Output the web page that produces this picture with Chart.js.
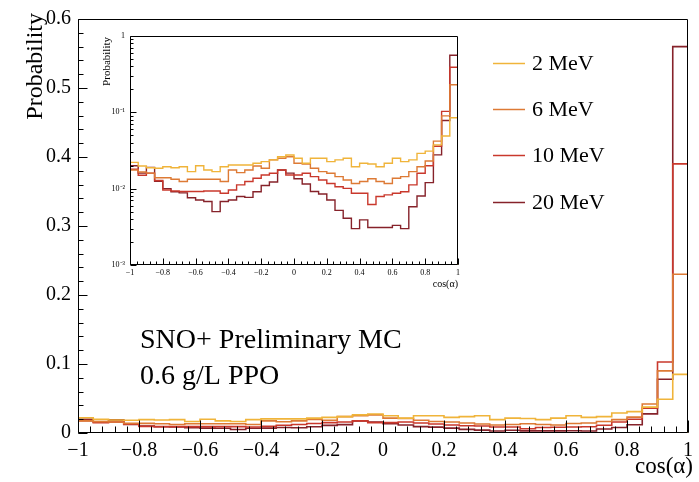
<!DOCTYPE html>
<html><head><meta charset="utf-8">
<script src="https://cdn.jsdelivr.net/npm/chart.js@4.4.1/dist/chart.umd.min.js"></script>
<style>
html,body{margin:0;padding:0;background:#fff;}
#wrap{position:relative;width:699px;height:482px;overflow:hidden;background:#fff;}
#main{position:absolute;left:0;top:0;}
#inset{position:absolute;left:88px;top:22px;background:#fff;}
</style></head><body>
<div id="wrap"><canvas id="main" width="699" height="482"></canvas><canvas id="inset" width="378" height="272"></canvas></div>
<script>
// ---- data ----
const binLowEdges = [-1,-0.95,-0.9,-0.85,-0.8,-0.75,-0.7,-0.65,-0.6,-0.55,-0.5,-0.45,-0.4,-0.35,-0.3,-0.25,-0.2,-0.15,-0.1,-0.05,
  0,0.05,0.1,0.15,0.2,0.25,0.3,0.35,0.4,0.45,0.5,0.55,0.6,0.65,0.7,0.75,0.8,0.85,0.9,0.95];
const binUpperEdge = 1;
const seriesLabels = ['2 MeV','6 MeV','10 MeV','20 MeV'];
const p2MeV = [0.0221,0.0198,0.0188,0.0185,0.0194,0.0188,0.0194,0.0167,0.0200,0.0176,
  0.0167,0.0194,0.0204,0.0204,0.0204,0.0215,0.0226,0.0238,0.0262,0.0276,
  0.0250,0.0215,0.0250,0.0250,0.0226,0.0238,0.0250,0.0194,0.0215,0.0210,
  0.0194,0.0215,0.0250,0.0226,0.0238,0.0290,0.0310,0.0375,0.049,0.085];
const p6MeV = [0.0176,0.0165,0.0160,0.0139,0.0139,0.0133,0.0124,0.0133,0.0133,0.0133,
  0.0133,0.0124,0.0176,0.0162,0.0176,0.0198,0.0185,0.0238,0.0250,0.0262,
  0.0215,0.0210,0.0185,0.0167,0.0159,0.0144,0.0130,0.0117,0.0124,0.0135,
  0.0124,0.0117,0.0137,0.0144,0.0167,0.0194,0.0230,0.0420,0.090,0.230];
const p10MeV = [0.0180,0.0150,0.0160,0.0128,0.0096,0.0093,0.0092,0.0092,0.0092,0.0093,
  0.0093,0.0087,0.0096,0.0112,0.0124,0.0137,0.0151,0.0159,0.0176,0.0151,
  0.0151,0.0159,0.0144,0.0130,0.0117,0.0106,0.0101,0.0087,0.0087,0.0062,
  0.0079,0.0083,0.0087,0.0091,0.0112,0.0159,0.0200,0.0360,0.103,0.390];
const p20MeV = [0.0200,0.0160,0.0190,0.0125,0.0100,0.0091,0.0088,0.0076,0.0071,0.0068,
  0.0050,0.0068,0.0071,0.0079,0.0077,0.0091,0.0110,0.0122,0.0176,0.0160,
  0.0135,0.0115,0.0092,0.0085,0.0071,0.0052,0.0041,0.0030,0.0039,0.0031,
  0.0031,0.0031,0.0033,0.0030,0.0058,0.0080,0.0120,0.0277,0.078,0.560];
const mainYTicks = [0,0.1,0.2,0.3,0.4,0.5,0.6];
const xTicks = [-1,-0.8,-0.6,-0.4,-0.2,0,0.2,0.4,0.6,0.8,1];
const insetYTicks = [0.001,0.01,0.1,1];
const insetYTickLabels = ['10\u207B\u00B3','10\u207B\u00B2','10\u207B\u00B9','1'];
const seriesColors = ['#f0b43a','#dd7a35','#c9382c','#86222a'];

// ---- helpers ----
const FONT = "'Liberation Serif', 'Times New Roman', serif";
function histPoints(vals, floor){
  const pts = vals.map((v,i)=>({x: binLowEdges[i], y: v}));
  pts.push({x: binUpperEdge, y: floor});
  return pts;
}
function fmtX(v){ const r = Math.round(v*10)/10; return r===0 ? '0' : String(r).replace('-','\u2212'); }
function rangeStep(a,b,s){ const out=[]; const n=Math.round((b-a)/s); for(let i=0;i<=n;i++) out.push(a+i*s); return out; }
function logMinors(min,max){ const out=[]; for(let e=Math.log10(min); e<Math.log10(max); e++){ for(let k=2;k<=9;k++) out.push(k*Math.pow(10,e)); } return out; }

function datasets(floor, width){
  const all = [p2MeV,p6MeV,p10MeV,p20MeV];
  return all.map((vals,i)=>({
    label: seriesLabels[i], data: histPoints(vals, floor), stepped: true,
    borderColor: seriesColors[i], borderWidth: width, pointRadius: 0, fill: false, tension: 0
  }));
}

const innerTicks = {
  id: 'innerTicks',
  afterDatasetsDraw(chart, args, o){
    const ctx = chart.ctx, a = chart.chartArea, xs = chart.scales.x, ys = chart.scales.y;
    ctx.save();
    ctx.strokeStyle = '#000'; ctx.lineWidth = 1;
    const L = Math.round(a.left)+0.5, R = Math.round(a.right)-0.5, T = Math.round(a.top)+0.5, B = Math.round(a.bottom)-0.5;
    ctx.beginPath();
    ctx.rect(L, T, R-L, B-T);
    const tick = (vals, len, isX) => {
      vals.forEach(v=>{
        if(isX){ const p = Math.round(xs.getPixelForValue(v))+0.5; if(p<L-1||p>R+1) return; ctx.moveTo(p,B); ctx.lineTo(p,B-len); }
        else { const p = Math.round(ys.getPixelForValue(v))+0.5; if(p<T-1||p>B+1) return; ctx.moveTo(L,p); ctx.lineTo(L+len,p); }
      });
    };
    tick(o.xMajor, o.xMajorLen, true); tick(o.xMinor, o.xMinorLen, true);
    tick(o.yMajor, o.yMajorLen, false); tick(o.yMinor, o.yMinorLen, false);
    ctx.stroke();
    ctx.restore();
  }
};

const textPlugin = {
  id: 'textPlugin',
  afterDraw(chart, args, o){
    const ctx = chart.ctx;
    ctx.save();
    ctx.fillStyle = '#000';
    (o.items||[]).forEach(t=>{
      ctx.save();
      ctx.font = t.size + 'px ' + FONT;
      ctx.textAlign = t.align || 'left';
      ctx.textBaseline = t.baseline || 'alphabetic';
      ctx.translate(t.x, t.y);
      if(t.rot) ctx.rotate(t.rot);
      ctx.fillText(t.text, 0, 0);
      ctx.restore();
    });
    if(o.legend){
      const lg = o.legend;
      chart.data.datasets.forEach((d,i)=>{
        const y = lg.rows[i];
        ctx.strokeStyle = d.borderColor; ctx.lineWidth = 1.5;
        ctx.beginPath(); ctx.moveTo(lg.x0, y+0.5); ctx.lineTo(lg.x1, y+0.5); ctx.stroke();
        ctx.font = lg.size + 'px ' + FONT; ctx.textBaseline = 'middle'; ctx.textAlign = 'left';
        ctx.fillStyle = '#000';
        ctx.fillText(d.label, lg.tx, y+1);
      });
    }
    ctx.restore();
  }
};

// ---- main chart ----
new Chart(document.getElementById('main'), {
  type: 'line',
  data: { datasets: datasets(0, 1.6) },
  options: {
    responsive: false, animation: false, devicePixelRatio: 1,
    layout: { padding: { top: 13, right: 6, left: 0, bottom: 0 } },
    plugins: {
      legend: { display: false }, tooltip: { enabled: false },
      innerTicks: { xMajor: xTicks, xMinor: rangeStep(-1,1,0.04), yMajor: mainYTicks, yMinor: rangeStep(0,0.6,0.02),
        xMajorLen: 12, xMinorLen: 6, yMajorLen: 9, yMinorLen: 5 },
      textPlugin: {
        items: [
          { text: 'Probability', x: 42, y: 13, size: 24, rot: -Math.PI/2, align: 'right' },
          { text: 'cos(\u03B1)', x: 693, y: 473, size: 23, align: 'right' },
          { text: 'SNO+ Preliminary MC', x: 140, y: 348, size: 28 },
          { text: '0.6 g/L PPO', x: 140, y: 384, size: 28 }
        ],
        legend: { x0: 493, x1: 525, tx: 532, rows: [63,109,155,202], size: 22 }
      }
    },
    scales: {
      x: { type: 'linear', min: -1, max: 1,
        afterBuildTicks: s => { s.ticks = xTicks.map(v=>({value:v})); },
        afterFit: s => { s.height = 49; },
        ticks: { font: { family: FONT, size: 20 }, color: '#000', padding: 6, maxRotation: 0, autoSkip: false, callback: v => fmtX(v) },
        grid: { display: false, drawTicks: false }, border: { display: false } },
      y: { type: 'linear', min: 0, max: 0.6,
        afterBuildTicks: s => { s.ticks = mainYTicks.map(v=>({value:v})); },
        afterFit: s => { s.width = 78; },
        ticks: { font: { family: FONT, size: 20 }, color: '#000', padding: 7, autoSkip: false, callback: v => v===0 ? '0' : (Math.round(v*10)/10).toFixed(1) },
        grid: { display: false, drawTicks: false }, border: { display: false } }
    }
  },
  plugins: [innerTicks, textPlugin]
});

// ---- inset chart ----
new Chart(document.getElementById('inset'), {
  type: 'line',
  data: { datasets: datasets(insetYTicks[0], 1.4) },
  options: {
    responsive: false, animation: false, devicePixelRatio: 1,
    layout: { padding: { top: 14, right: 8, left: 0, bottom: 0 } },
    plugins: {
      legend: { display: false }, tooltip: { enabled: false },
      innerTicks: { xMajor: xTicks, xMinor: rangeStep(-1,1,0.04), yMajor: insetYTicks, yMinor: logMinors(0.001,1),
        xMajorLen: 6, xMinorLen: 3, yMajorLen: 6, yMinorLen: 3 },
      textPlugin: {
        items: [
          { text: 'Probability', x: 22, y: 15, size: 11, rot: -Math.PI/2, align: 'right' },
          { text: 'cos(\u03B1)', x: 370, y: 265, size: 10, align: 'right' }
        ]
      }
    },
    scales: {
      x: { type: 'linear', min: -1, max: 1,
        afterBuildTicks: s => { s.ticks = xTicks.map(v=>({value:v})); },
        afterFit: s => { s.height = 29; },
        ticks: { font: { family: FONT, size: 8 }, color: '#000', padding: 3, maxRotation: 0, autoSkip: false, callback: v => fmtX(v) },
        grid: { display: false, drawTicks: false }, border: { display: false } },
      y: { type: 'logarithmic', min: insetYTicks[0], max: insetYTicks[insetYTicks.length-1],
        afterBuildTicks: s => { s.ticks = insetYTicks.map(v=>({value:v})); },
        afterFit: s => { s.width = 42; },
        ticks: { font: { family: FONT, size: 8 }, color: '#000', padding: 5, autoSkip: false,
          callback: v => { const i = insetYTicks.findIndex(t => Math.abs(Math.log10(t)-Math.log10(v))<1e-6); return i>=0 ? insetYTickLabels[i] : ''; } },
        grid: { display: false, drawTicks: false }, border: { display: false } }
    }
  },
  plugins: [innerTicks, textPlugin]
});
</script>
</body></html>
